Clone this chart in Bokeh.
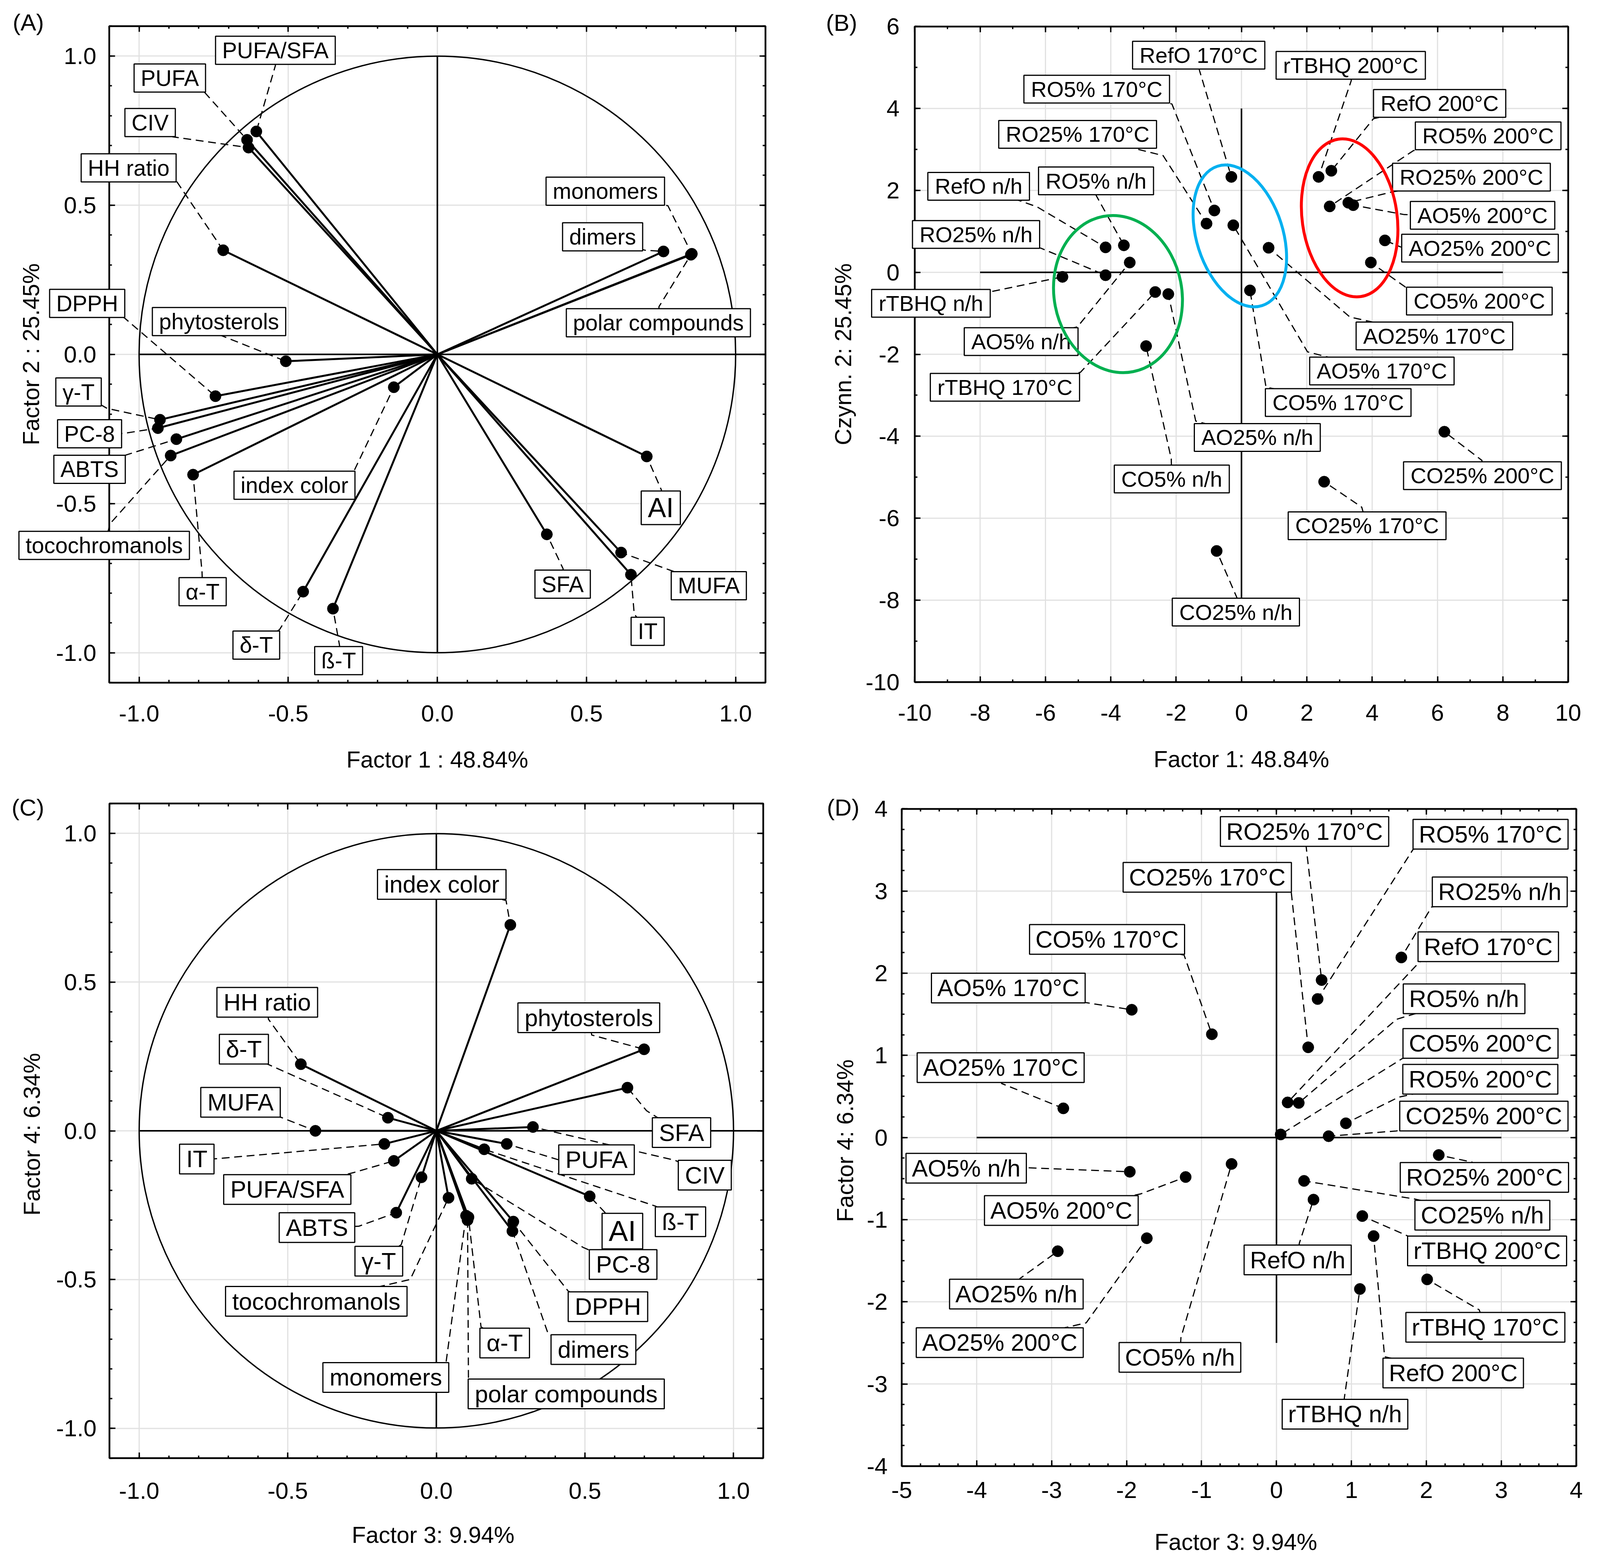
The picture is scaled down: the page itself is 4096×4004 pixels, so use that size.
import math
from bokeh.plotting import figure
from bokeh.models import (Range1d, SingleIntervalTicker, LinearAxis, Label,
                          NumeralTickFormatter)
from bokeh.layouts import row, column
from bokeh.embed import file_html
from bokeh.resources import INLINE

FONT = "Liberation Sans"

# ---------------------------------------------------------------- data
variables = ["PUFA/SFA", "PUFA", "CIV", "HH ratio", "monomers", "dimers",
             "polar compounds", "DPPH", "phytosterols", "γ-T", "PC-8", "ABTS",
             "tocochromanols", "α-T", "index color", "δ-T", "ß-T", "AI",
             "SFA", "MUFA", "IT"]
load_f1 = [-0.607, -0.638, -0.633, -0.718, 0.853, 0.758, 0.850, -0.744, -0.508,
           -0.930, -0.937, -0.875, -0.894, -0.819, -0.146, -0.450, -0.350,
           0.702, 0.367, 0.616, 0.649]
load_f2 = [0.747, 0.719, 0.693, 0.349, 0.337, 0.345, 0.334, -0.140, -0.023,
           -0.219, -0.247, -0.284, -0.339, -0.403, -0.110, -0.795, -0.852,
           -0.342, -0.603, -0.664, -0.738]
load_f3 = [-0.143, 0.237, 0.325, -0.456, 0.100, 0.256, 0.105, 0.259, 0.699,
           -0.050, 0.119, -0.135, 0.041, 0.108, 0.249, -0.163, 0.161, 0.516,
           0.643, -0.407, -0.175]
load_f4 = [-0.101, -0.044, 0.013, 0.224, -0.285, -0.337, -0.300, -0.305, 0.274,
           -0.156, -0.161, -0.275, -0.225, -0.290, 0.692, 0.044, -0.062,
           -0.220, 0.145, 0.000, -0.044]

samples = ["RefO n/h", "RO5% n/h", "RO25% n/h", "rTBHQ n/h", "AO5% n/h",
           "AO25% n/h", "CO5% n/h", "CO25% n/h",
           "RefO 170°C", "RO5% 170°C", "RO25% 170°C", "rTBHQ 170°C",
           "AO5% 170°C", "AO25% 170°C", "CO5% 170°C", "CO25% 170°C",
           "RefO 200°C", "RO5% 200°C", "RO25% 200°C", "rTBHQ 200°C",
           "AO5% 200°C", "AO25% 200°C", "CO5% 200°C", "CO25% 200°C"]
score_f1 = [-4.16, -3.60, -4.16, -5.48, -3.42, -2.24, -2.92, -0.76,
            -0.31, -0.83, -1.07, -2.64, -0.25, 0.83, 0.26, 2.53,
            2.75, 2.70, 3.27, 2.36, 3.42, 4.39, 3.96, 6.21]
score_f2 = [0.61, 0.66, -0.07, -0.11, 0.24, -0.53, -1.80, -6.80,
            2.33, 1.51, 1.19, -0.48, 1.15, 0.60, -0.44, -5.11,
            2.48, 1.61, 1.70, 2.33, 1.64, 0.78, 0.24, -3.89]
score_f3 = [0.494, 0.297, 1.666, 1.113, -1.957, -2.918, -0.599, 0.368,
            0.149, 0.549, 0.602, 2.010, -1.931, -2.844, -0.862, 0.423,
            1.296, 0.926, 2.165, 1.145, -1.212, -1.730, 0.056, 0.696]
score_f4 = [-0.756, 0.421, 2.192, -1.844, -0.417, -1.384, -0.322, -0.528,
            0.427, 1.686, 1.917, -1.727, 1.555, 0.355, 1.257, 1.098,
            -1.200, 0.173, -0.213, -0.956, -0.481, -1.226, 0.037, 0.016]

# ------------------------------------------------ label placement (layout)
# name: (box centre x, box centre y, leader start x, leader start y)
A_lab = {
    "PUFA/SFA": (-0.543, 1.019, -0.543, 0.968),
    "PUFA": (-0.897, 0.926, -0.782, 0.880),
    "CIV": (-0.963, 0.777, -0.887, 0.729),
    "HH ratio": (-1.035, 0.625, -0.873, 0.578),
    "monomers": (0.563, 0.547, 0.773, 0.498),
    "dimers": (0.554, 0.394, 0.696, 0.349),
    "polar compounds": (0.741, 0.106, 0.743, 0.160),
    "DPPH": (-1.174, 0.171, -1.050, 0.123),
    "phytosterols": (-0.732, 0.110, -0.729, 0.065),
    "γ-T": (-1.203, -0.126, -1.107, -0.181),
    "PC-8": (-1.166, -0.266, -1.054, -0.265),
    "ABTS": (-1.166, -0.385, -1.050, -0.339),
    "tocochromanols": (-1.117, -0.640, -1.097, -0.567),
    "α-T": (-0.787, -0.795, -0.789, -0.729),
    "index color": (-0.479, -0.4385, -0.280, -0.392),
    "δ-T": (-0.607, -0.974, -0.529, -0.922),
    "ß-T": (-0.331, -1.026, -0.328, -0.975),
    "AI": (0.749, -0.514, 0.751, -0.454),
    "SFA": (0.420, -0.770, 0.4215, -0.718),
    "MUFA": (0.910, -0.775, 0.7886, -0.726),
    "IT": (0.705, -0.928, 0.660, -0.870),
}
C_lab = {
    "PUFA/SFA": (-0.5016, -0.1971, -0.2775, -0.140),
    "PUFA": (0.539, -0.097, 0.4085, -0.0966),
    "CIV": (0.9033, -0.149, 0.804, -0.0993),
    "HH ratio": (-0.569, 0.432, -0.565, 0.375),
    "monomers": (-0.170, -0.8287, 0.0329, -0.776),
    "dimers": (0.5286, -0.735, 0.3768, -0.684),
    "polar compounds": (0.437, -0.884, 0.108, -0.8335),
    "DPPH": (0.5774, -0.591, 0.444, -0.539),
    "phytosterols": (0.513, 0.380, 0.5228, 0.322),
    "γ-T": (-0.1936, -0.438, -0.118, -0.382),
    "PC-8": (0.6285, -0.449, 0.4943, -0.392),
    "ABTS": (-0.4017, -0.325, -0.261, -0.3206),
    "tocochromanols": (-0.404, -0.573, -0.0879, -0.4995),
    "α-T": (0.230, -0.713, 0.1503, -0.6586),
    "index color": (0.0182, 0.828, 0.2345, 0.774),
    "δ-T": (-0.6476, 0.2743, -0.5676, 0.224),
    "ß-T": (0.8215, -0.3055, 0.7376, -0.253),
    "AI": (0.626, -0.337, 0.570, -0.277),
    "SFA": (0.825, -0.006, 0.7073, 0.0676),
    "MUFA": (-0.659, 0.096, -0.5236, 0.0457),
    "IT": (-0.8061, -0.0949, -0.7548, -0.0949),
}
B_lab = {
    "RefO n/h": (-8.045, 2.101, -6.26, 1.60),
    "RO5% n/h": (-4.452, 2.233, -4.45, 1.88),
    "RO25% n/h": (-8.124, 0.925, -6.14, 0.59),
    "rTBHQ n/h": (-9.505, -0.756, -7.60, -0.46),
    "AO5% n/h": (-6.744, -1.689, -5.02, -1.33),
    "AO25% n/h": (0.484, -4.03, -1.40, -3.63),
    "CO5% n/h": (-2.133, -5.042, -2.15, -4.55),
    "CO25% n/h": (-0.172, -8.292, -0.14, -7.94),
    "RefO 170°C": (-1.31, 5.30, -1.29, 4.94),
    "RO5% 170°C": (-4.431, 4.472, -2.13, 4.11),
    "RO25% 170°C": (-5.015, 3.368, -2.40, 2.85),
    "rTBHQ 170°C": (-7.24, -2.806, -4.93, -2.44),
    "AO5% 170°C": (4.297, -2.406, 2.02, -1.94),
    "AO25% 170°C": (5.905, -1.552, 3.32, -1.09),
    "CO5% 170°C": (2.96, -3.178, 0.75, -2.80),
    "CO25% 170°C": (3.845, -6.184, 3.68, -5.73),
    "RefO 200°C": (6.065, 4.124, 4.04, 3.75),
    "RO5% 200°C": (7.55, 3.332, 5.26, 2.97),
    "RO25% 200°C": (7.038, 2.325, 4.59, 1.96),
    "rTBHQ 200°C": (3.344, 5.054, 3.36, 4.68),
    "AO5% 200°C": (7.379, 1.391, 4.98, 1.41),
    "AO25% 200°C": (7.30, 0.591, 4.87, 0.62),
    "CO5% 200°C": (7.28, -0.70, 5.02, -0.36),
    "CO25% 200°C": (7.375, -4.963, 7.36, -4.59),
}
D_lab = {
    "RefO n/h": (0.2826, -1.490, 0.304, -1.289),
    "RO5% n/h": (2.503, 1.689, 1.6025, 1.439),
    "RO25% n/h": (2.979, 2.990, 2.069, 2.805),
    "rTBHQ n/h": (0.914, -3.368, 0.9045, -3.176),
    "AO5% n/h": (-4.14, -0.374, -3.297, -0.369),
    "AO25% n/h": (-3.4706, -1.906, -3.4235, -1.717),
    "CO5% n/h": (-1.288, -2.676, -1.275, -2.437),
    "CO25% n/h": (2.747, -0.945, 1.852, -0.750),
    "RefO 170°C": (2.8256, 2.322, 1.911, 2.139),
    "RO5% 170°C": (2.856, 3.692, 1.823, 3.508),
    "RO25% 170°C": (0.3746, 3.725, 0.407, 3.450),
    "rTBHQ 170°C": (2.787, -2.310, 2.705, -2.098),
    "AO5% 170°C": (-3.578, 1.820, -2.543, 1.642),
    "AO25% 170°C": (-3.680, 0.851, -3.668, 0.658),
    "CO5% 170°C": (-2.2604, 2.412, -1.233, 2.221),
    "CO25% 170°C": (-0.9235, 3.167, 0.1935, 3.0165),
    "RefO 200°C": (2.358, -2.867, 1.4427, -2.668),
    "RO5% 200°C": (2.7195, 0.709, 1.628, 0.4905),
    "RO25% 200°C": (2.774, -0.485, 2.61, -0.30),
    "rTBHQ 200°C": (2.81, -1.38, 1.7555, -1.20),
    "AO5% 200°C": (-2.8705, -0.888, -1.8124, -0.6866),
    "AO25% 200°C": (-3.692, -2.497, -2.539, -2.256),
    "CO5% 200°C": (2.722, 1.146, 1.6805, 0.962),
    "CO25% 200°C": (2.767, 0.2605, 1.596, 0.0795),
}

# group ellipses on panel B (centre in data units, size in screen px)
ell_x = [-3.78, -0.05, 3.31]
ell_y = [-0.53, 0.89, 1.33]
ell_w = [327, 221, 243]
ell_h = [405, 375, 407]
ell_a = [0.192, 0.309, 0.14]
ell_c = ["#00b050", "#00b0f0", "#ff0000"]

# page layout (px): canvas box and plotting-frame box of each panel
CANVAS = {"A": (8, 8, 2080, 2000), "B": (2080, 8, 4088, 2000),
          "C": (8, 2000, 2080, 3996), "D": (2080, 2000, 4088, 3996)}
FRAME = {"A": (287.2, 74.4, 1967.1, 1755.2), "B": (2349.3, 75.4, 4022.1, 1753.7),
         "C": (287.7, 2064.5, 1961.4, 3740.6), "D": (2315.9, 2078.4, 4042.8, 3760.9)}
LETTER = {"A": (80, 65), "B": (2162, 66), "C": (79, 2075), "D": (2166, 2075)}


# ---------------------------------------------------------------- helpers
class Mapping:
    def __init__(self, canvas, frame, xr, yr):
        cx0, cy0, cx1, cy1 = canvas
        fx0, fy0, fx1, fy1 = frame
        self.xpu = (fx1 - fx0) / (xr[1] - xr[0])
        self.ypu = (fy1 - fy0) / (yr[1] - yr[0])
        self.X0 = xr[0] - (fx0 - cx0) / self.xpu
        self.X1 = xr[1] + (cx1 - fx1) / self.xpu
        self.Y1 = yr[1] + (fy0 - cy0) / self.ypu
        self.Y0 = yr[0] - (cy1 - fy1) / self.ypu
        self.cx0, self.cy0 = cx0, cy0
        self.w = int(round(cx1 - cx0))
        self.h = int(round(cy1 - cy0))

    def data(self, px, py):
        return (self.X0 + (px - self.cx0) / self.xpu,
                self.Y1 - (py - self.cy0) / self.ypu)


def positions(lo, hi, step):
    k0 = math.ceil(lo / step - 1e-9)
    k1 = math.floor(hi / step + 1e-9)
    return [k * step for k in range(k0, k1 + 1)]


def style_axis(ax, fmt, standoff=0, label=None, label_standoff=0, hidden=False):
    ax.axis_line_color = None
    ax.major_tick_in = 15
    ax.major_tick_out = 0
    ax.minor_tick_in = 7
    ax.minor_tick_out = 0
    ax.major_tick_line_width = 3.5
    ax.minor_tick_line_width = 3.5
    ax.major_tick_line_color = "black"
    ax.minor_tick_line_color = "black"
    ax.formatter = fmt
    if hidden:
        ax.major_label_text_font_size = "10px"
        ax.major_label_text_color = None
        ax.major_label_standoff = 0
    else:
        ax.major_label_text_font = FONT
        ax.major_label_text_font_size = "60px"
        ax.major_label_text_color = "black"
        ax.major_label_standoff = standoff
        ax.axis_label = label
        ax.axis_label_text_font = FONT
        ax.axis_label_text_font_size = "59px"
        ax.axis_label_text_font_style = "normal"
        ax.axis_label_text_color = "black"
        ax.axis_label_standoff = label_standoff


def make_fig(key, xr, yr, xint, xmin, yint, ymin, fmt_str,
             xlabel, ylabel, xs, xls, ys, yls):
    m = Mapping(CANVAS[key], FRAME[key], xr, yr)
    p = figure(width=m.w, height=m.h, x_range=Range1d(m.X0, m.X1),
               y_range=Range1d(m.Y0, m.Y1), output_backend="svg",
               toolbar_location=None, min_border=0,
               min_border_left=0, min_border_right=0,
               min_border_top=0, min_border_bottom=0)
    p.outline_line_color = None
    p.background_fill_color = "white"
    p.border_fill_color = "white"
    p.xgrid.visible = False
    p.ygrid.visible = False
    # grid at major ticks, inside the data frame only
    gx = positions(xr[0], xr[1], xint)
    gy = positions(yr[0], yr[1], yint)
    p.segment(x0=gx, y0=[yr[0]] * len(gx), x1=gx, y1=[yr[1]] * len(gx),
              line_color="#e1e1e1", line_width=3)
    p.segment(x0=[xr[0]] * len(gy), y0=gy, x1=[xr[1]] * len(gy), y1=gy,
              line_color="#e1e1e1", line_width=3)
    # frame box
    p.quad(left=[xr[0]], right=[xr[1]], bottom=[yr[0]], top=[yr[1]],
           fill_color=None, line_color="black", line_width=4.5)
    xt = SingleIntervalTicker(interval=xint, num_minor_ticks=xmin)
    yt = SingleIntervalTicker(interval=yint, num_minor_ticks=ymin)
    bx = p.xaxis[0]
    bx.ticker = xt
    bx.fixed_location = yr[0]
    bx.bounds = xr
    style_axis(bx, NumeralTickFormatter(format=fmt_str), xs, xlabel, xls)
    ly = p.yaxis[0]
    ly.ticker = yt
    ly.fixed_location = xr[0]
    ly.bounds = yr
    style_axis(ly, NumeralTickFormatter(format=fmt_str), ys, ylabel, yls)
    top = LinearAxis(ticker=xt, fixed_location=yr[1], bounds=xr)
    right = LinearAxis(ticker=yt, fixed_location=xr[1], bounds=yr)
    style_axis(top, NumeralTickFormatter(format=fmt_str), hidden=True)
    style_axis(right, NumeralTickFormatter(format=fmt_str), hidden=True)
    p.add_layout(top, "above")
    p.add_layout(right, "right")
    lx, lyy = m.data(*LETTER[key])
    p.add_layout(Label(x=lx, y=lyy, text="(" + key + ")", text_font=FONT,
                       text_font_size="60px", text_color="black",
                       text_align="center", text_baseline="middle"))
    return p


def add_leaders_and_labels(p, names, xv, yv, lay, font_px, pad, ai_px=None):
    lx = [[lay[n][0], lay[n][2], x] for n, x in zip(names, xv)]
    ly = [[lay[n][1], lay[n][3], y] for n, y in zip(names, yv)]
    p.multi_line(lx, ly, line_color="black", line_width=3, line_dash="20 12")
    p.scatter(xv, yv, size=29, color="black")
    for n in names:
        fs = ai_px if (n == "AI" and ai_px) else font_px
        p.add_layout(Label(x=lay[n][0], y=lay[n][1], text=n, text_font=FONT,
                           text_font_size=f"{fs}px", text_color="black",
                           text_align="center", text_baseline="middle",
                           background_fill_color="white",
                           border_line_color="black", border_line_width=3,
                           padding=pad))


def loading_panel(p, xv, yv, lay, font_px, pad, ai_px):
    n = len(xv)
    p.segment(x0=[-1.0, 0.0], y0=[0.0, -1.0], x1=[1.1, 0.0], y1=[0.0, 1.0],
              line_color="black", line_width=4)
    p.circle(x=[0.0], y=[0.0], radius=1.0, fill_color=None,
             line_color="black", line_width=3.5)
    p.segment(x0=[0.0] * n, y0=[0.0] * n, x1=xv, y1=yv,
              line_color="black", line_width=5)
    add_leaders_and_labels(p, variables, xv, yv, lay, font_px, pad, ai_px)


# ---------------------------------------------------------------- panel A
pA = make_fig("A", (-1.1, 1.1), (-1.1, 1.1), 0.5, 5, 0.5, 5, "0.0",
              "Factor 1 : 48.84%", "Factor 2 : 25.45%", 58, 62, 33, 27)
loading_panel(pA, load_f1, load_f2, A_lab, 57, (17, 4), 70)

# ---------------------------------------------------------------- panel B
pB = make_fig("B", (-10, 10), (-10, 6), 2, 2, 2, 2, "0",
              "Factor 1: 48.84%", "Czynn. 2: 25.45%", 58, 62, 39, 21)
pB.segment(x0=[-8, 0], y0=[0, -8], x1=[8, 0], y1=[0, 4],
           line_color="black", line_width=4)
add_leaders_and_labels(pB, samples, score_f1, score_f2, B_lab, 56, (18, 4))
ell = pB.ellipse(x=ell_x, y=ell_y, width=ell_w, height=ell_h, angle=ell_a,
                 width_units="screen", height_units="screen",
                 fill_color=None, line_color=ell_c, line_width=7.5)
ell.level = "overlay"

# ---------------------------------------------------------------- panel C
pC = make_fig("C", (-1.1, 1.1), (-1.1, 1.1), 0.5, 5, 0.5, 5, "0.0",
              "Factor 3:  9.94%", "Factor 4:  6.34%", 63, 56, 33, 26)
loading_panel(pC, load_f3, load_f4, C_lab, 61, (17, 4), 74)

# ---------------------------------------------------------------- panel D
pD = make_fig("D", (-5, 4), (-4, 4), 1, 4, 1, 4, "0",
              "Factor 3:  9.94%", "Factor 4:  6.34%", 41, 76, 36, 19)
pD.segment(x0=[-4, 0], y0=[0, -2.5], x1=[3, 0], y1=[0, 3],
           line_color="black", line_width=4)
add_leaders_and_labels(pD, samples, score_f3, score_f4, D_lab, 61, (15, 4))

layout = column(row(pA, pB), row(pC, pD))
open("out.html", "w").write(file_html(layout, INLINE))
